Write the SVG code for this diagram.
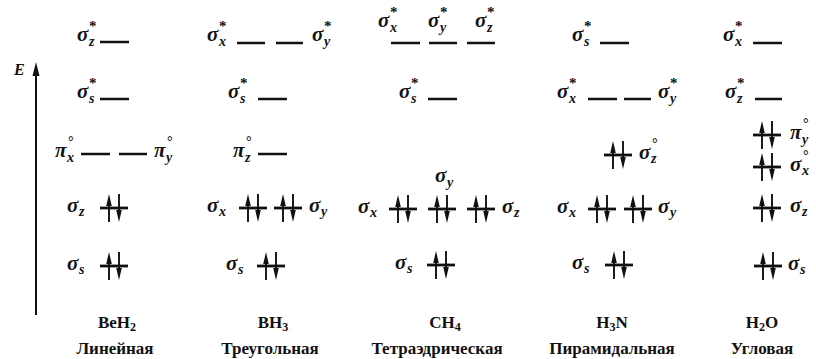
<svg xmlns="http://www.w3.org/2000/svg" xmlns:xlink="http://www.w3.org/1999/xlink" width="816" height="359" viewBox="0 0 816 359">
<style>
.lab{font-family:"Liberation Serif",serif;font-style:italic;font-weight:bold;font-size:21px;fill:#111}
.sub{font-size:14px}
.sup{font-size:15px;font-style:normal}
.lvl{stroke:#111;stroke-width:2.5;fill:none}
.form{font-family:"Liberation Serif",serif;font-weight:bold;font-size:17px;fill:#111;text-anchor:middle}
.fs{font-size:12px}
</style>
<defs>
<g id="pair">
<line x1="-14" y1="0" x2="14" y2="0" stroke="#111" stroke-width="2.8"/>
<line x1="-5" y1="14" x2="-5" y2="-10" stroke="#111" stroke-width="1.9"/>
<path d="M-5,-14 L-7.8,-2 L-2.2,-2 Z" fill="#111"/>
<line x1="5" y1="-14" x2="5" y2="10" stroke="#111" stroke-width="1.9"/>
<path d="M5,14 L2.2,2 L7.8,2 Z" fill="#111"/>
</g>
</defs>
<rect width="816" height="359" fill="#fff"/>
<g id="connectors">
<line x1="36" y1="315" x2="36" y2="75" stroke="#111" stroke-width="2"/>
<path d="M36,62 L32.5,76 L39.5,76 Z" fill="#111"/>
</g>
<g id="axis-label"><text class="lab" x="14" y="75" style="font-size:16px">E</text></g>

<g id="beh2">
<text class="lab" x="77" y="41">σ<tspan class="sub" x="89" y="46">z</tspan><tspan class="sup" x="89" y="31">*</tspan></text>
<line class="lvl" x1="100" y1="42" x2="129" y2="42"/>
<text class="lab" x="77" y="98">σ<tspan class="sub" x="89" y="103">s</tspan><tspan class="sup" x="89" y="88">*</tspan></text>
<line class="lvl" x1="100" y1="99" x2="129" y2="99"/>
<text class="lab" x="55" y="157">π<tspan class="sub" x="67" y="162">x</tspan><tspan class="sup" x="68" y="146" style="font-size:14px">°</tspan></text>
<line class="lvl" x1="81" y1="154" x2="110" y2="154"/>
<line class="lvl" x1="119" y1="154" x2="147" y2="154"/>
<text class="lab" x="154" y="157">π<tspan class="sub" x="166" y="162">y</tspan><tspan class="sup" x="167" y="146" style="font-size:14px">°</tspan></text>
<text class="lab" x="67" y="212">σ<tspan class="sub" x="79" y="216">z</tspan></text>
<use xlink:href="#pair" x="114" y="208"/>
<text class="lab" x="67" y="270">σ<tspan class="sub" x="79" y="274">s</tspan></text>
<use xlink:href="#pair" x="114" y="266"/>
</g>

<g id="bh3">
<text class="lab" x="207" y="41">σ<tspan class="sub" x="219" y="46">x</tspan><tspan class="sup" x="219" y="31">*</tspan></text>
<line class="lvl" x1="237" y1="43" x2="265" y2="43"/>
<line class="lvl" x1="276" y1="43" x2="303" y2="43"/>
<text class="lab" x="312" y="41">σ<tspan class="sub" x="324" y="46">y</tspan><tspan class="sup" x="324" y="31">*</tspan></text>
<text class="lab" x="228" y="98">σ<tspan class="sub" x="240" y="103">s</tspan><tspan class="sup" x="240" y="88">*</tspan></text>
<line class="lvl" x1="258" y1="99" x2="287" y2="99"/>
<text class="lab" x="233" y="157">π<tspan class="sub" x="245" y="162">z</tspan><tspan class="sup" x="246" y="146" style="font-size:14px">°</tspan></text>
<line class="lvl" x1="258" y1="154" x2="287" y2="154"/>
<text class="lab" x="207" y="212">σ<tspan class="sub" x="219" y="216">x</tspan></text>
<use xlink:href="#pair" x="253" y="208"/>
<use xlink:href="#pair" x="288" y="208"/>
<text class="lab" x="309" y="212">σ<tspan class="sub" x="321" y="216">y</tspan></text>
<text class="lab" x="226" y="270">σ<tspan class="sub" x="238" y="274">s</tspan></text>
<use xlink:href="#pair" x="271" y="266"/>
</g>

<g id="ch4">
<text class="lab" x="378" y="27">σ<tspan class="sub" x="390" y="32">x</tspan><tspan class="sup" x="390" y="17">*</tspan></text>
<line class="lvl" x1="391" y1="43" x2="420" y2="43"/>
<text class="lab" x="428" y="27">σ<tspan class="sub" x="440" y="32">y</tspan><tspan class="sup" x="440" y="17">*</tspan></text>
<line class="lvl" x1="429" y1="43" x2="457" y2="43"/>
<text class="lab" x="475" y="27">σ<tspan class="sub" x="487" y="32">z</tspan><tspan class="sup" x="487" y="17">*</tspan></text>
<line class="lvl" x1="467" y1="43" x2="495" y2="43"/>
<text class="lab" x="399" y="98">σ<tspan class="sub" x="411" y="103">s</tspan><tspan class="sup" x="411" y="88">*</tspan></text>
<line class="lvl" x1="428" y1="99" x2="457" y2="99"/>
<text class="lab" x="435" y="182">σ<tspan class="sub" x="447" y="187">y</tspan></text>
<text class="lab" x="358" y="213">σ<tspan class="sub" x="370" y="217">x</tspan></text>
<use xlink:href="#pair" x="403" y="209"/>
<use xlink:href="#pair" x="442" y="209"/>
<use xlink:href="#pair" x="481" y="209"/>
<text class="lab" x="502" y="213">σ<tspan class="sub" x="514" y="217">z</tspan></text>
<text class="lab" x="395" y="269">σ<tspan class="sub" x="407" y="273">s</tspan></text>
<use xlink:href="#pair" x="441" y="265"/>
</g>

<g id="h3n">
<text class="lab" x="572" y="41">σ<tspan class="sub" x="584" y="46">s</tspan><tspan class="sup" x="584" y="31">*</tspan></text>
<line class="lvl" x1="600" y1="43" x2="629" y2="43"/>
<text class="lab" x="557" y="98">σ<tspan class="sub" x="569" y="103">x</tspan><tspan class="sup" x="569" y="88">*</tspan></text>
<line class="lvl" x1="588" y1="99" x2="617" y2="99"/>
<line class="lvl" x1="624" y1="99" x2="651" y2="99"/>
<text class="lab" x="658" y="98">σ<tspan class="sub" x="670" y="103">y</tspan><tspan class="sup" x="670" y="88">*</tspan></text>
<use xlink:href="#pair" x="618" y="155"/>
<text class="lab" x="639" y="159">σ<tspan class="sub" x="651" y="163">z</tspan><tspan class="sup" x="652" y="148" style="font-size:14px">°</tspan></text>
<text class="lab" x="557" y="213">σ<tspan class="sub" x="569" y="217">x</tspan></text>
<use xlink:href="#pair" x="602" y="209"/>
<use xlink:href="#pair" x="638" y="209"/>
<text class="lab" x="658" y="213">σ<tspan class="sub" x="670" y="217">y</tspan></text>
<text class="lab" x="572" y="269">σ<tspan class="sub" x="584" y="273">s</tspan></text>
<use xlink:href="#pair" x="619" y="265"/>
</g>

<g id="h2o">
<text class="lab" x="723" y="41">σ<tspan class="sub" x="735" y="46">x</tspan><tspan class="sup" x="735" y="31">*</tspan></text>
<line class="lvl" x1="753" y1="43" x2="782" y2="43"/>
<text class="lab" x="725" y="98">σ<tspan class="sub" x="737" y="103">z</tspan><tspan class="sup" x="737" y="88">*</tspan></text>
<line class="lvl" x1="755" y1="99" x2="782" y2="99"/>
<use xlink:href="#pair" x="767" y="135"/>
<text class="lab" x="790" y="139">π<tspan class="sub" x="802" y="144">y</tspan><tspan class="sup" x="803" y="128" style="font-size:14px">°</tspan></text>
<use xlink:href="#pair" x="767" y="167"/>
<text class="lab" x="790" y="171">σ<tspan class="sub" x="802" y="175">x</tspan><tspan class="sup" x="803" y="160" style="font-size:14px">°</tspan></text>
<use xlink:href="#pair" x="767" y="208"/>
<text class="lab" x="790" y="212">σ<tspan class="sub" x="802" y="216">z</tspan></text>
<use xlink:href="#pair" x="768" y="266"/>
<text class="lab" x="788" y="270">σ<tspan class="sub" x="800" y="274">s</tspan></text>
</g>

<g id="captions">
<text class="form" x="117" y="328">BeH<tspan class="fs" dy="3">2</tspan></text>
<text class="form" x="115" y="354">Линейная</text>
<text class="form" x="273" y="328">BH<tspan class="fs" dy="3">3</tspan></text>
<text class="form" x="270" y="354">Треугольная</text>
<text class="form" x="445" y="328">CH<tspan class="fs" dy="3">4</tspan></text>
<text class="form" x="437" y="354">Тетраэдрическая</text>
<text class="form" x="612" y="328">H<tspan class="fs" dy="3">3</tspan><tspan dy="-3">N</tspan></text>
<text class="form" x="612" y="354">Пирамидальная</text>
<text class="form" x="762" y="328">H<tspan class="fs" dy="3">2</tspan><tspan dy="-3">O</tspan></text>
<text class="form" x="762" y="354">Угловая</text>
</g>
</svg>
